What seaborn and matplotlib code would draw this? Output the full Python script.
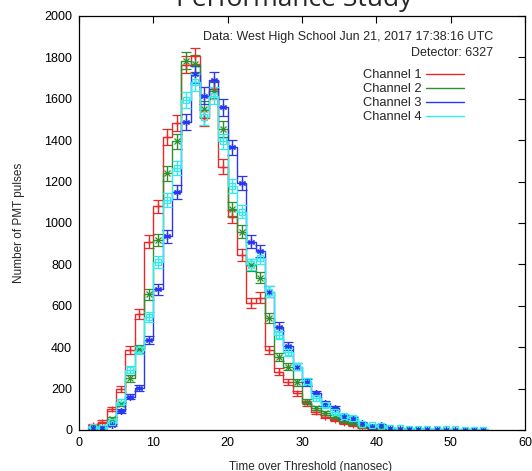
import numpy as np
import pandas as pd
import matplotlib
matplotlib.use("Agg")
import matplotlib.pyplot as plt
from matplotlib.lines import Line2D
import seaborn as sns

# Time-over-threshold bin centres (ns), bins are 1.25 ns wide (DAQ resolution)
tot_ns = [1.875, 3.125, 4.375, 5.625, 6.875, 8.125, 9.375, 10.625, 11.875, 13.125,
          14.375, 15.625, 16.875, 18.125, 19.375, 20.625, 21.875, 23.125, 24.375, 25.625,
          26.875, 28.125, 29.375, 30.625, 31.875, 33.125, 34.375, 35.625, 36.875, 38.125,
          39.375, 40.625, 41.875, 43.125, 44.375, 45.625, 46.875, 48.125, 49.375, 50.625,
          51.875, 53.125, 54.375]
bin_width = 1.25

channel_names = ["Channel 1", "Channel 2", "Channel 3", "Channel 4"]

ch1_counts = [25, 40, 100, 200, 385, 560, 910, 1080, 1415, 1485,
              1765, 1805, 1505, 1645, 1272, 1030, 845, 612, 640, 386,
              282, 233, 177, 129, 88, 64, 48, 35, 25, 14,
              10, 6, 4, 3, 2, 2, 1, 1, 1, 0, 1, 0, 1]
ch2_counts = [12, 15, 55, 125, 250, 390, 655, 918, 1240, 1395,
              1785, 1770, 1550, 1640, 1455, 1068, 958, 797, 735, 540,
              354, 306, 230, 137, 105, 81, 64, 45, 35, 20,
              14, 9, 6, 4, 3, 2, 2, 1, 1, 1, 0, 1, 0]
ch3_counts = [10, 8, 25, 90, 161, 201, 435, 680, 936, 1151,
              1486, 1718, 1615, 1690, 1558, 1365, 1192, 910, 865, 668,
              499, 406, 306, 230, 177, 129, 105, 63, 55, 34,
              15, 24, 8, 6, 5, 4, 3, 3, 2, 2, 2, 2, 1]
ch4_counts = [15, 10, 40, 137, 290, 386, 547, 810, 1111, 1266,
              1594, 1680, 1510, 1615, 1395, 1180, 1055, 800, 830, 668,
              459, 378, 306, 235, 153, 121, 88, 70, 58, 30,
              25, 20, 12, 9, 7, 6, 5, 4, 3, 3, 2, 2, 2]

colors = ["#ee2828", "#2e8f2e", "#2a36f0", "#30ecec"]
markers = ["+", "x", (6, 2, 0), "s"]

sns.set_theme(style="white")
plt.rcParams['font.family'] = ['Liberation Sans', 'DejaVu Sans']

fig = plt.figure(figsize=(5.32, 4.71), dpi=100)
ax = fig.add_axes([79 / 532, 41 / 471, 446 / 532, 414 / 471])

x = np.array(tot_ns)
edges = list(np.append(x - bin_width / 2, x[-1] + bin_width / 2))

all_counts = [ch1_counts, ch2_counts, ch3_counts, ch4_counts]
for counts, col, mk in zip(all_counts, colors, markers):
    df = pd.DataFrame({"tot": tot_ns, "n": counts})
    sns.histplot(data=df, x="tot", weights="n", bins=edges, element="step",
                 fill=False, color=col, linewidth=1.0, ax=ax)
    n = np.array(counts, dtype=float)
    ax.errorbar(x, n, yerr=np.sqrt(n), marker=mk, linestyle="none", color=col,
                ms=5, mew=0.9, mfc="none", elinewidth=1.0, capsize=3.5,
                capthick=1.0)

ax.set_xlim(0, 60)
ax.set_ylim(0, 2000)
ax.set_xticks(range(0, 61, 10))
ax.set_yticks(range(0, 2001, 200))
ax.tick_params(direction="in", length=5, width=0.8, top=True, right=True,
               labelsize=9, pad=5, colors="black")
for sp in ax.spines.values():
    sp.set_color("black")
    sp.set_linewidth(0.9)

ax.set_ylabel("Number of PMT pulses", fontsize=8.5)
ax.yaxis.set_label_coords(-0.122, 0.5)
ax.set_xlabel("Time over Threshold (nanosec)", fontsize=8.5)
ax.xaxis.set_label_coords(0.52, -0.076)

ax.text(0.928, 0.950, "Data: West High School Jun 21, 2017 17:38:16 UTC",
        transform=ax.transAxes, ha="right", va="center", fontsize=9)
ax.text(0.928, 0.911, "Detector: 6327",
        transform=ax.transAxes, ha="right", va="center", fontsize=9)

handles = [Line2D([0], [0], color=c, lw=1.0) for c in colors]
ax.legend(handles, channel_names, loc="upper right", bbox_to_anchor=(0.863, 0.871),
          frameon=False, markerfirst=False, fontsize=9.3, handlelength=2.95,
          handletextpad=0.3, labelspacing=0.15, borderpad=0, borderaxespad=0)

fig.text(294 / 532, 1 - 6 / 471, "Performance Study", ha="center", va="baseline",
         fontsize=19, family=["Open Sans", "DejaVu Sans"])

fig.savefig("out.png", dpi=100)
